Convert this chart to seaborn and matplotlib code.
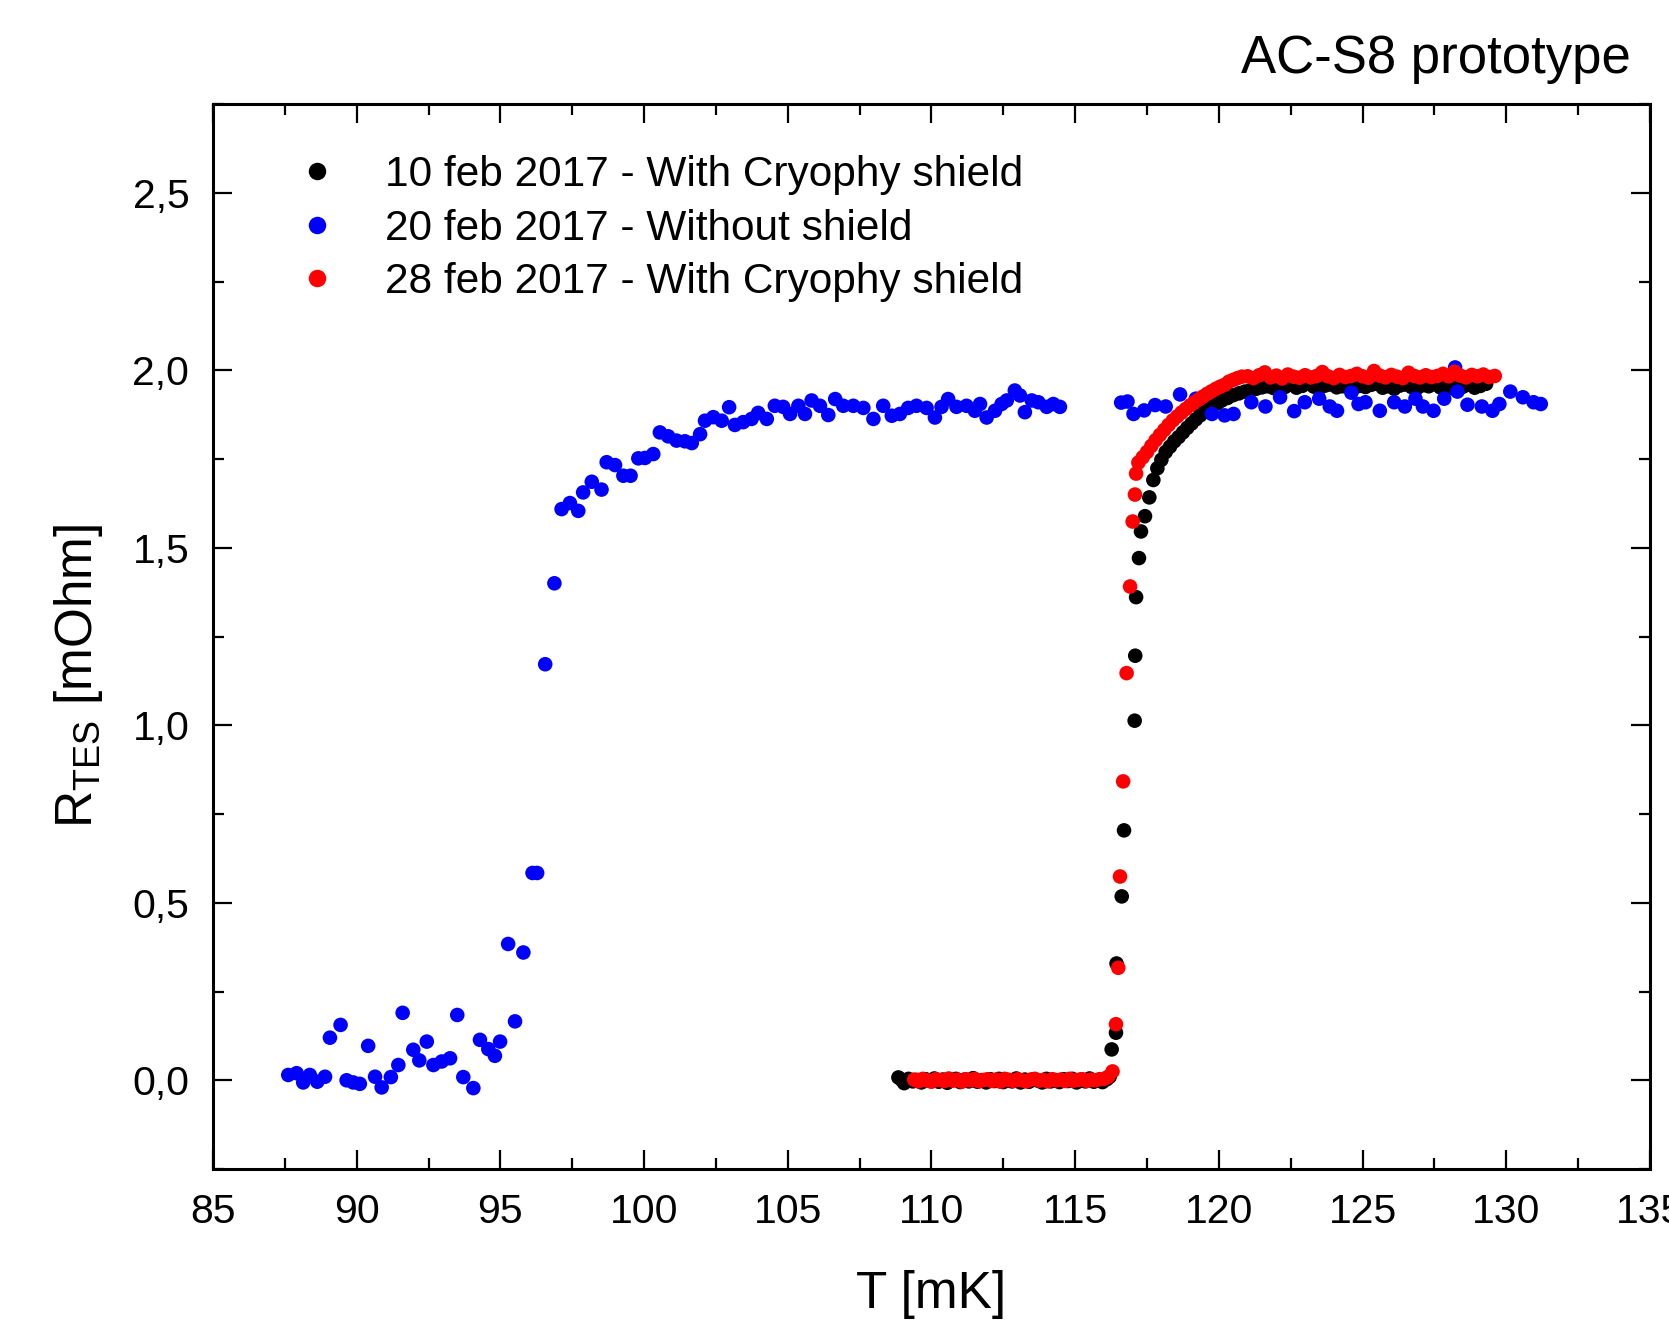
import pandas as pd
import seaborn as sns
import matplotlib.pyplot as plt
from matplotlib.ticker import MultipleLocator, FuncFormatter

# ---------------- data ----------------
labels = ["10 feb 2017 - With Cryophy shield",
          "20 feb 2017 - Without shield",
          "28 feb 2017 - With Cryophy shield"]
colors = ["#000000", "#0000FF", "#FF0000"]

# 10 feb (black)
black_flat_T = [108.85, 108.95, 109.05, 109.20, 109.35, 109.50, 109.65, 109.80, 109.95, 110.10,
                110.25, 110.40, 110.55, 110.70, 110.85, 111.00, 111.15, 111.30, 111.45, 111.60,
                111.75, 111.90, 112.05, 112.20, 112.35, 112.50, 112.65, 112.80, 112.95, 113.10,
                113.25, 113.40, 113.55, 113.70, 113.85, 114.00, 114.15, 114.30, 114.45, 114.60,
                114.75, 114.90, 115.05, 115.20, 115.35, 115.50, 115.65, 115.80, 115.95, 116.10,
                116.20]
black_flat_R = [0.008, 0.002, -0.008, 0.004, -0.003, 0.001, -0.006, 0.003, -0.002, 0.005,
                -0.004, 0.002, -0.007, 0.001, 0.004, -0.005, 0.002, -0.003, 0.006, -0.004,
                0.000, -0.006, 0.003, -0.002, 0.004, -0.005, 0.001, -0.003, 0.005, -0.006,
                0.002, -0.004, 0.003, -0.001, -0.006, 0.004, -0.003, 0.001, -0.005, 0.003,
                -0.002, 0.004, -0.006, 0.002, -0.003, 0.005, -0.004, 0.001, -0.005, 0.003,
                0.010]
black_rise_T = [116.27, 116.42, 116.44, 116.62, 116.70, 117.07, 117.09, 117.12, 117.22, 117.29,
                117.43, 117.58, 117.72, 117.86, 118.00, 118.15, 118.30, 118.45, 118.60, 118.75,
                118.90, 119.05, 119.20, 119.35, 119.50, 119.65, 119.80, 119.95, 120.10, 120.30,
                120.50, 120.70, 120.90, 121.10]
black_rise_R = [0.087, 0.134, 0.329, 0.518, 0.704, 1.013, 1.196, 1.361, 1.471, 1.546,
                1.589, 1.642, 1.691, 1.724, 1.748, 1.770, 1.785, 1.800, 1.812, 1.825,
                1.838, 1.850, 1.862, 1.873, 1.883, 1.892, 1.900, 1.907, 1.915, 1.922,
                1.930, 1.935, 1.940, 1.944]
black_plat_T = [121.3, 121.5, 121.7, 121.9, 122.1, 122.3, 122.5, 122.7, 122.9, 123.1,
                123.3, 123.5, 123.7, 123.9, 124.1, 124.3, 124.5, 124.7, 124.9, 125.1,
                125.3, 125.5, 125.7, 125.9, 126.1, 126.3, 126.5, 126.7, 126.9, 127.1,
                127.3, 127.5, 127.7, 127.9, 128.1, 128.3, 128.5, 128.7, 128.9, 129.1,
                129.3]
black_plat_R = [1.948, 1.952, 1.955, 1.950, 1.958, 1.953, 1.960, 1.951, 1.956, 1.962,
                1.954, 1.949, 1.957, 1.960, 1.952, 1.955, 1.961, 1.950, 1.956, 1.953,
                1.959, 1.962, 1.951, 1.955, 1.948, 1.957, 1.960, 1.953, 1.950, 1.958,
                1.955, 1.961, 1.952, 1.956, 1.950, 1.958, 1.954, 1.960, 1.951, 1.956,
                1.962]

# 20 feb (blue)
blue_low_T = [87.62, 87.91, 88.14, 88.37, 88.63, 88.90, 89.07, 89.44, 89.65, 89.88,
              90.11, 90.40, 90.64, 90.87, 91.19, 91.45, 91.60, 91.97, 92.18, 92.44,
              92.67, 92.96, 93.25, 93.50, 93.71, 94.06, 94.29, 94.58, 94.81, 94.99,
              95.27, 95.51, 95.80, 96.12, 96.28]
blue_low_R = [0.015, 0.020, -0.006, 0.015, -0.004, 0.010, 0.120, 0.156, 0.000, -0.006,
              -0.010, 0.097, 0.010, -0.020, 0.009, 0.043, 0.190, 0.086, 0.056, 0.109,
              0.043, 0.053, 0.062, 0.184, 0.009, -0.022, 0.114, 0.088, 0.069, 0.109,
              0.384, 0.166, 0.360, 0.584, 0.584]
blue_mid_T = [96.56, 96.88, 97.13, 97.42, 97.71, 97.88, 98.18, 98.52, 98.70, 98.99,
              99.28, 99.53, 99.80, 100.03, 100.32, 100.55, 100.84, 101.13, 101.42, 101.66,
              101.95, 102.12, 102.41, 102.70, 102.96, 103.16, 103.45, 103.74, 103.97, 104.27,
              104.55, 104.84, 105.08, 105.37, 105.60, 105.83, 106.12, 106.41, 106.65, 106.93,
              107.28, 107.63, 107.98, 108.32, 108.62, 108.90, 109.19, 109.48, 109.83, 110.12,
              110.35, 110.58, 110.87, 111.22, 111.51, 111.69, 111.92, 112.21, 112.44, 112.62,
              112.90, 113.08, 113.25, 113.49, 113.72, 114.01, 114.24, 114.47]
blue_mid_R = [1.172, 1.400, 1.609, 1.626, 1.604, 1.656, 1.686, 1.664, 1.741, 1.733,
              1.703, 1.703, 1.752, 1.753, 1.764, 1.825, 1.814, 1.802, 1.800, 1.795,
              1.820, 1.858, 1.868, 1.858, 1.896, 1.846, 1.854, 1.863, 1.880, 1.863,
              1.900, 1.897, 1.877, 1.900, 1.877, 1.915, 1.900, 1.874, 1.919, 1.900,
              1.900, 1.894, 1.863, 1.900, 1.872, 1.877, 1.894, 1.900, 1.894, 1.867,
              1.897, 1.919, 1.897, 1.900, 1.886, 1.905, 1.867, 1.886, 1.905, 1.915,
              1.943, 1.929, 1.882, 1.915, 1.910, 1.897, 1.905, 1.897]
blue_high_T = [116.60, 116.82, 117.03, 117.40, 117.78, 118.15, 118.65, 119.20, 119.76, 120.20,
               120.51, 121.13, 121.62, 122.13, 122.62, 122.99, 123.49, 123.86, 124.11, 124.61,
               124.86, 125.10, 125.60, 126.10, 126.47, 126.84, 127.10, 127.47, 127.84, 128.22,
               128.30, 128.65, 129.15, 129.52, 129.76, 130.14, 130.58, 130.95, 131.20]
blue_high_R = [1.909, 1.912, 1.877, 1.887, 1.902, 1.898, 1.932, 1.920, 1.877, 1.873,
               1.877, 1.910, 1.898, 1.924, 1.885, 1.910, 1.920, 1.898, 1.886, 1.937,
               1.905, 1.910, 1.886, 1.910, 1.898, 1.920, 1.898, 1.886, 1.920, 2.008,
               1.940, 1.903, 1.898, 1.886, 1.905, 1.940, 1.924, 1.910, 1.905]

# 28 feb (red)
red_flat_T = [109.40, 109.55, 109.70, 109.85, 110.00, 110.15, 110.30, 110.45, 110.60, 110.75,
              110.90, 111.05, 111.20, 111.35, 111.50, 111.65, 111.80, 111.95, 112.10, 112.25,
              112.40, 112.55, 112.70, 112.85, 113.00, 113.15, 113.30, 113.45, 113.60, 113.75,
              113.90, 114.05, 114.20, 114.35, 114.50, 114.65, 114.80, 114.95, 115.10, 115.25,
              115.40, 115.55, 115.70, 115.85, 116.00, 116.15, 116.30]
red_flat_R = [0.002, -0.003, 0.004, 0.000, -0.004, 0.003, 0.001, -0.002, 0.005, -0.001,
              0.002, -0.004, 0.003, 0.000, 0.004, -0.003, 0.001, 0.003, -0.002, 0.002,
              -0.004, 0.004, 0.001, -0.002, 0.003, 0.000, -0.003, 0.002, 0.004, -0.001,
              0.001, -0.003, 0.003, 0.000, 0.002, -0.002, 0.004, -0.001, 0.001, 0.003,
              -0.002, 0.002, 0.000, 0.003, 0.004, 0.010, 0.025]
red_rise_T = [116.42, 116.50, 116.56, 116.67, 116.79, 116.91, 117.00, 117.08, 117.12, 117.20,
              117.35, 117.50, 117.65, 117.80, 117.95, 118.10, 118.25, 118.40, 118.55, 118.70,
              118.85, 119.00, 119.15, 119.30, 119.45, 119.60, 119.75, 119.90, 120.05, 120.20,
              120.35, 120.50, 120.65, 120.80]
red_rise_R = [0.158, 0.317, 0.574, 0.842, 1.147, 1.391, 1.574, 1.650, 1.709, 1.740,
              1.755, 1.770, 1.787, 1.803, 1.818, 1.832, 1.846, 1.859, 1.870, 1.881,
              1.891, 1.901, 1.910, 1.918, 1.926, 1.934, 1.941, 1.948, 1.954, 1.959,
              1.968, 1.973, 1.978, 1.982]
red_plat_T = [121.0, 121.2, 121.4, 121.6, 121.8, 122.0, 122.2, 122.4, 122.6, 122.8,
              123.0, 123.2, 123.4, 123.6, 123.8, 124.0, 124.2, 124.4, 124.6, 124.8,
              125.0, 125.2, 125.4, 125.6, 125.8, 126.0, 126.2, 126.4, 126.6, 126.8,
              127.0, 127.2, 127.4, 127.6, 127.8, 128.0, 128.2, 128.4, 128.6, 128.8,
              129.0, 129.2, 129.4, 129.6]
red_plat_R = [1.983, 1.978, 1.986, 1.994, 1.980, 1.985, 1.977, 1.988, 1.982, 1.979,
              1.986, 1.980, 1.984, 1.995, 1.983, 1.978, 1.987, 1.981, 1.984, 1.990,
              1.983, 1.979, 1.998, 1.985, 1.980, 1.987, 1.982, 1.978, 1.993, 1.984,
              1.980, 1.986, 1.981, 1.984, 1.990, 1.983, 1.996, 1.985, 1.980, 1.987,
              1.983, 1.988, 1.981, 1.984]

black_T = black_flat_T + black_rise_T + black_plat_T
black_R = black_flat_R + black_rise_R + black_plat_R
blue_T = blue_low_T + blue_mid_T + blue_high_T
blue_R = blue_low_R + blue_mid_R + blue_high_R
red_T = red_flat_T + red_rise_T + red_plat_T
red_R = red_flat_R + red_rise_R + red_plat_R

df = pd.concat([
    pd.DataFrame({"T": black_T, "R": black_R, "run": labels[0]}),
    pd.DataFrame({"T": blue_T, "R": blue_R, "run": labels[1]}),
    pd.DataFrame({"T": red_T, "R": red_R, "run": labels[2]}),
], ignore_index=True)

# ---------------- plot ----------------
sns.set_theme(style="ticks")
plt.rcParams["font.family"] = ["Liberation Sans", "DejaVu Sans"]
plt.rcParams["mathtext.fontset"] = "custom"
plt.rcParams["mathtext.rm"] = "Liberation Sans"
plt.rcParams["mathtext.it"] = "Liberation Sans"
for key in ["text.color", "axes.labelcolor", "xtick.color", "ytick.color", "axes.edgecolor"]:
    plt.rcParams[key] = "black"

fig = plt.figure(figsize=(16.69, 13.22), dpi=100)
ax = fig.add_axes([0.1276, 0.1157, 0.861, 0.8056])

sns.scatterplot(data=df, x="T", y="R", hue="run", hue_order=labels,
                palette=dict(zip(labels, colors)), s=110, linewidth=0,
                ax=ax)

ax.set_xlim(85, 135)
ax.set_ylim(-0.25, 2.75)
ax.xaxis.set_major_locator(MultipleLocator(5))
ax.xaxis.set_minor_locator(MultipleLocator(2.5))
ax.yaxis.set_major_locator(MultipleLocator(0.5))
ax.yaxis.set_minor_locator(MultipleLocator(0.25))
ax.yaxis.set_major_formatter(FuncFormatter(lambda v, p: f"{v:.1f}".replace(".", ",")))

ax.tick_params(which="both", direction="in", top=True, right=True, width=1.6,
               labelsize=29.5, pad=17)
ax.tick_params(which="major", length=14)
ax.tick_params(which="minor", length=8)
for sp in ax.spines.values():
    sp.set_linewidth(2.2)

ax.set_xlabel("T [mK]", fontsize=37, labelpad=28)
ax.set_ylabel(r"R$_{\mathrm{TES}}$ [mOhm]", fontsize=37)
ax.yaxis.set_label_coords(-0.075, 0.463)

handles, labs = ax.get_legend_handles_labels()
ax.legend(handles, labs, loc="upper left", bbox_to_anchor=(0.058, 0.952),
          frameon=False, fontsize=30.5, borderpad=0, borderaxespad=0,
          handlelength=1.0, handletextpad=1.1, labelspacing=0.32, markerscale=1.2)

fig.text(0.977, 0.955, "AC-S8 prototype", fontsize=38, ha="right", va="center")

fig.savefig("out.png", dpi=100)
